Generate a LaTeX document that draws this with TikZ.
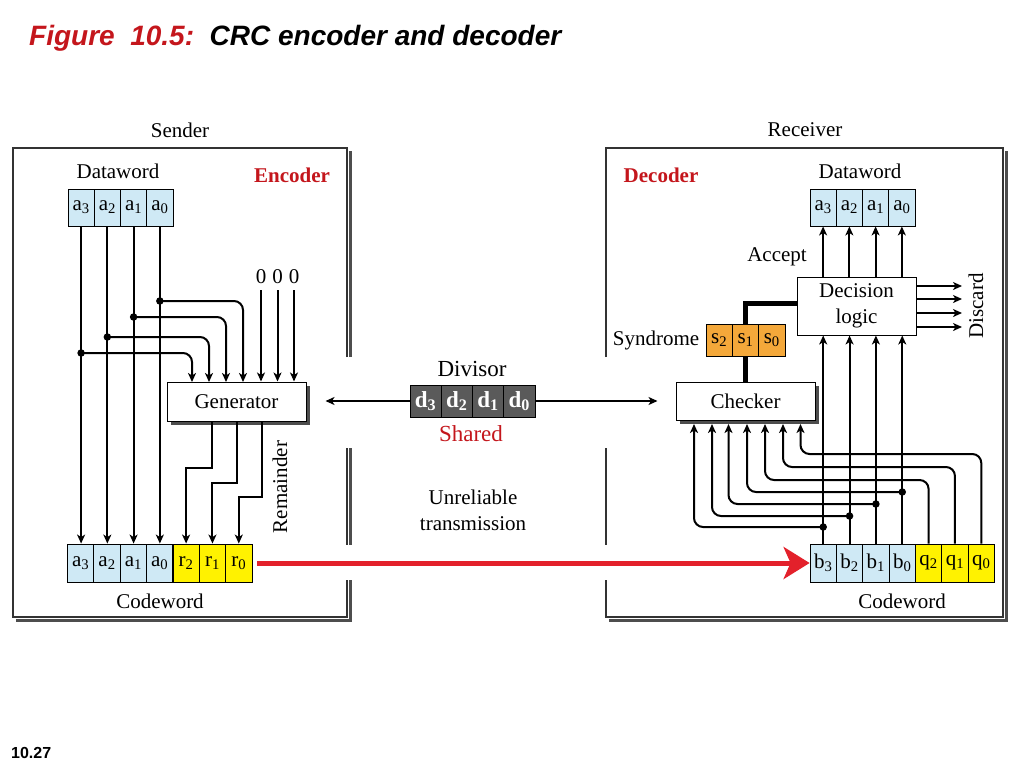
\documentclass[tikz,border=0pt]{standalone}
\usepackage{fontspec}
\setmainfont{Liberation Serif}
\newfontfamily\titlefont{Liberation Sans}
\usetikzlibrary{arrows.meta,shadows}
\definecolor{lblue}{HTML}{CFE9F5}
\definecolor{yel}{HTML}{FFF200}
\definecolor{org}{HTML}{F4A83A}
\definecolor{dgray}{HTML}{5A5A5A}
\definecolor{redA}{HTML}{E3212B}
\definecolor{redT}{HTML}{C4161C}
\definecolor{framec}{HTML}{333333}
\definecolor{shadowc}{HTML}{4D4D4D}
\begin{document}
\begin{tikzpicture}[x=1pt,y=-1pt,
 txt/.style={font=\fontsize{21}{23}\selectfont, inner sep=0pt},
 redlbl/.style={font=\fontsize{21}{23}\selectfont\bfseries, text=redT, inner sep=0pt},
 cell/.style={draw=black, line width=0.9pt, minimum width=26.3pt, minimum height=37pt, inner sep=0pt, font=\fontsize{21}{23}\selectfont},
 wire/.style={line width=2pt},
 tip/.style={-{Stealth[length=9pt,width=8pt,inset=2.5pt]}},
 dotc/.style={circle, fill=black, inner sep=0pt, minimum size=7.5pt},
 procbox/.style={draw=black, line width=1pt, fill=white, inner sep=0pt, font=\fontsize{21}{23}\selectfont},
 shbox/.style={procbox, drop shadow={shadow xshift=4pt, shadow yshift=-4pt, fill=shadowc, opacity=1}},
 framel/.style={draw=framec, line width=1.5pt},
 shadl/.style={draw=shadowc, line width=3pt},
]
\useasboundingbox (0,0) rectangle (1024,768);
\fill[white] (0,0) rectangle (1024,768);

% title and page number
\node[anchor=west, inner sep=0pt, font=\titlefont\bfseries\itshape\fontsize{28}{30}\selectfont] (title) at (29,38) {\textcolor{redT}{Figure\ \ 10.5:}\ \ CRC encoder and decoder};
\node[anchor=west, inner sep=0pt, font=\titlefont\bfseries\fontsize{16}{18}\selectfont] (pg) at (11,753) {10.27};

% frames
\draw[framel] (347,357) -- (347,148) -- (13,148) -- (13,617) -- (347,617) -- (347,580);
\draw[framel] (347,448) -- (347,545);
\draw[shadl] (350,151) -- (350,357);
\draw[shadl] (350,448) -- (350,545);
\draw[shadl] (350,580) -- (350,620) -- (16,620);
\draw[framel] (606,357) -- (606,148) -- (1003,148) -- (1003,617) -- (606,617) -- (606,580);
\draw[framel, line width=1.2pt] (606,448) -- (606,545);
\draw[shadl] (1006,151) -- (1006,620) -- (609,620);

% labels
\node[txt] (sender) at (180,130) {Sender};
\node[txt] (receiver) at (805,130) {Receiver};
\node[txt] (dwl) at (118,171) {Dataword};
\node[txt] (dwr) at (860,171) {Dataword};
\node[redlbl] (enc) at (292,175) {Encoder};
\node[redlbl] (dec) at (661,175) {Decoder};
\node[txt] (acc) at (777,257) {Accept};
\node[txt] (syn) at (656,340) {Syndrome};
\node[txt, font=\fontsize{23}{25}\selectfont] (divl) at (472,369) {Divisor};
\node[txt, font=\fontsize{23}{25}\selectfont, text=redT] (shared) at (471,434) {Shared};
\node[txt, align=center, font=\fontsize{21}{26}\selectfont] (unrel) at (473,510) {Unreliable\\transmission};
\node[txt] (cwl) at (160,601) {Codeword};
\node[txt] (cwr) at (902,601) {Codeword};
\node[txt, rotate=90] (rem) at (280,487) {Remainder};
\node[txt, rotate=90] (disc) at (976,306) {Discard};

% processing boxes
\node[shbox, minimum width=139pt, minimum height=39pt] (gen) at (236.5,401.5) {Generator};
\node[shbox, minimum width=139pt, minimum height=38pt] (chk) at (745.5,401) {Checker};
\node[procbox, minimum width=119pt, minimum height=58pt, align=center, font=\fontsize{21}{26}\selectfont] (dlog) at (856.5,306) {Decision\\logic};

% left dataword and codeword
\foreach \i/\s in {0/3,1/2,2/1,3/0}{
  \node[cell, fill=lblue] (la\s) at ({81.1+26.25*\i},207.5) {a\textsubscript{\s}};
  \node[cell, fill=lblue, minimum height=38pt] (lca\s) at ({80.7+26.35*\i},563) {a\textsubscript{\s}};
}
\foreach \i/\s in {4/2,5/1,6/0}
  \node[cell, fill=yel, minimum height=38pt] (lcr\s) at ({80.7+26.35*\i},563) {r\textsubscript{\s}};

% right dataword and codeword
\foreach \i/\s in {0/3,1/2,2/1,3/0}{
  \node[cell, fill=lblue] (ra\s) at ({823.1+26.25*\i},207.5) {a\textsubscript{\s}};
  \node[cell, fill=lblue, minimum height=38pt] (rb\s) at ({823.2+26.35*\i},563) {b\textsubscript{\s}};
}
\foreach \i/\s in {4/2,5/1,6/0}
  \node[cell, fill=yel, minimum height=38pt] (rq\s) at ({823.2+26.35*\i},563) {q\textsubscript{\s}};

% divisor
\foreach \i/\s in {0/3,1/2,2/1,3/0}
  \node[cell, fill=dgray, text=white, minimum width=31.25pt, minimum height=32pt, font=\fontsize{23}{25}\selectfont\bfseries] (d\s) at ({425.6+31.25*\i},401) {d\textsubscript{\s}};
\draw[line width=1.5pt, tip] (d3.west) -- ([xshift=19pt]gen.east |- d3.west);
\draw[line width=1.5pt, tip] (d0.east) -- ([xshift=-18pt]chk.west |- d0.east);

% ---------- encoder wiring
\foreach \s in {3,2,1,0}
  \draw[wire, tip] (la\s.south) -- (la\s.south |- lca\s.north);
\coordinate (g3) at (192,382);
\coordinate (g2) at (209,382);
\coordinate (g1) at (226,382);
\coordinate (g0) at (243,382);
\foreach \s/\yy in {3/353,2/337,1/317,0/301}{
  \coordinate (p\s) at (la\s.south |- 0,\yy);
  \draw[wire, tip, rounded corners=9pt] (p\s) -| (g\s);
  \node[dotc] (pd\s) at (p\s) {};
}
\node[txt] (z2) at (261,277) {0};
\node[txt] (z1) at (277.5,277) {0};
\node[txt] (z0) at (294,277) {0};
\foreach \s in {2,1,0}
  \draw[wire, tip] ([yshift=-6pt]z\s.south) -- (z\s |- gen.north);
\coordinate (go2) at (212,421);
\coordinate (go1) at (237,421);
\coordinate (go0) at (262,421);
\draw[wire, tip] (go2) -- ++(0,47) -| (lcr2.north);
\draw[wire, tip] (go1) -- ++(0,62) -| (lcr1.north);
\draw[wire, tip] (go0) -- ++(0,76) -| (lcr0.north);

% ---------- decoder wiring
\draw[line width=5pt] (dlog.west |- 0,303) -| (745.5,382);
\foreach \i/\s in {0/2,1/1,2/0}
  \node[cell, fill=org, minimum height=32pt] (s\s) at ({719.2+26.3*\i},340) {s\textsubscript{\s}};

\foreach \s in {3,2,1,0}{
  \draw[wire, tip] (ra\s.south |- dlog.north) -- (ra\s.south);
  \draw[wire, tip] (rb\s.north) -- (rb\s.north |- dlog.south);
}
\coordinate (c3) at (694,424);
\coordinate (c2) at (712,424);
\coordinate (c1) at (728.5,424);
\coordinate (c0) at (747,424);
\coordinate (cq2) at (765,424);
\coordinate (cq1) at (783,424);
\coordinate (cq0) at (800.5,424);
\foreach \s/\yy in {3/527,2/516,1/504,0/492}{
  \coordinate (bp\s) at (rb\s.north |- 0,\yy);
  \draw[wire, tip, rounded corners=9pt] (bp\s) -| (c\s);
  \node[dotc] (bd\s) at (bp\s) {};
}
\foreach \s/\yy in {2/480,1/467,0/454}
  \draw[wire, tip, rounded corners=9pt] (rq\s.north) |- (cq\s |- 0,\yy) -- (cq\s);

% discard
\foreach \k/\yy in {1/286,2/299,3/313,4/327}{
  \coordinate (dd\k) at (962,\yy);
  \draw[wire, tip] (dlog.east |- dd\k) -- (dd\k);
}

% transmission
\draw[redA, line width=5pt, -{Stealth[length=26pt,width=32pt,inset=7pt]}] ([xshift=5pt]lcr0.east) -- (rb3.west);
\end{tikzpicture}
\end{document}
